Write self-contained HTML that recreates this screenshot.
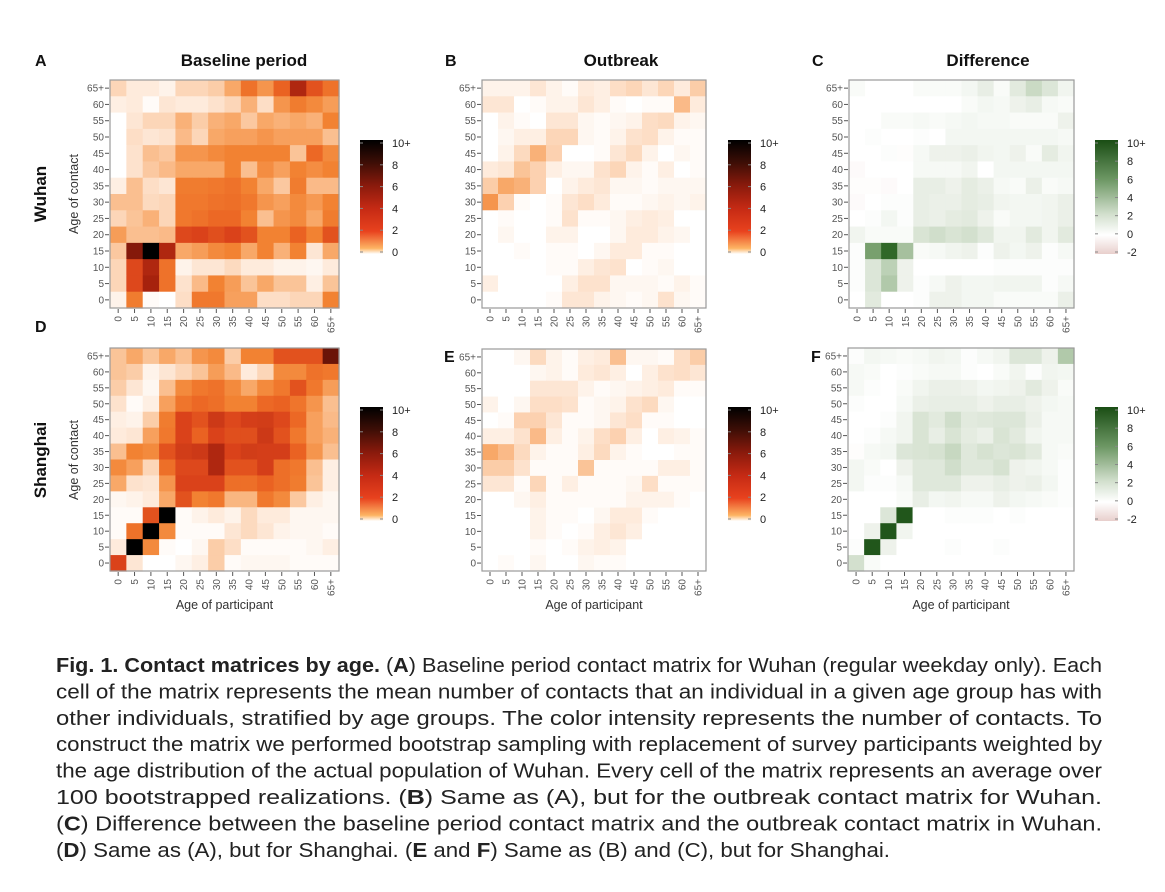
<!DOCTYPE html>
<html><head><meta charset="utf-8"><style>
html,body{margin:0;padding:0;background:#fff;}
svg{display:block;font-family:"Liberation Sans",sans-serif;}
</style></head><body>
<svg id="fig" width="1165" height="892" viewBox="0 0 1165 892">
<defs>
<linearGradient id="gOr" x1="0" y1="1" x2="0" y2="0">
<stop offset="0" stop-color="#ffffff"/><stop offset="0.05" stop-color="#fdb463"/><stop offset="0.2" stop-color="#e8421e"/><stop offset="0.4" stop-color="#c52a14"/><stop offset="0.6" stop-color="#8a1a0c"/><stop offset="0.8" stop-color="#3e0e06"/><stop offset="1" stop-color="#000000"/>
</linearGradient>
<linearGradient id="gGr" x1="0" y1="1" x2="0" y2="0">
<stop offset="0" stop-color="#e8cfcc"/><stop offset="0.167" stop-color="#ffffff"/><stop offset="0.35" stop-color="#d2dfcd"/><stop offset="0.65" stop-color="#6e9865"/><stop offset="1" stop-color="#1a4d14"/>
</linearGradient>
</defs>
<g id="panels"></g>
<g font-size="20" fill="#222">
<text x="56" y="672" textLength="1046" lengthAdjust="spacingAndGlyphs"><tspan font-weight="bold">Fig. 1. Contact matrices by age.</tspan> (<tspan font-weight="bold">A</tspan>) Baseline period contact matrix for Wuhan (regular weekday only). Each</text>
<text x="56" y="698.4" textLength="1046" lengthAdjust="spacingAndGlyphs">cell of the matrix represents the mean number of contacts that an individual in a given age group has with</text>
<text x="56" y="724.8" textLength="1046" lengthAdjust="spacingAndGlyphs">other individuals, stratified by age groups. The color intensity represents the number of contacts. To</text>
<text x="56" y="751.2" textLength="1046" lengthAdjust="spacingAndGlyphs">construct the matrix we performed bootstrap sampling with replacement of survey participants weighted by</text>
<text x="56" y="777.6" textLength="1046" lengthAdjust="spacingAndGlyphs">the age distribution of the actual population of Wuhan. Every cell of the matrix represents an average over</text>
<text x="56" y="804" textLength="1046" lengthAdjust="spacingAndGlyphs">100 bootstrapped realizations. (<tspan font-weight="bold">B</tspan>) Same as (A), but for the outbreak contact matrix for Wuhan.</text>
<text x="56" y="830.4" textLength="1046" lengthAdjust="spacingAndGlyphs">(<tspan font-weight="bold">C</tspan>) Difference between the baseline period contact matrix and the outbreak contact matrix in Wuhan.</text>
<text x="56" y="856.8" textLength="834" lengthAdjust="spacingAndGlyphs">(<tspan font-weight="bold">D</tspan>) Same as (A), but for Shanghai. (<tspan font-weight="bold">E</tspan> and <tspan font-weight="bold">F</tspan>) Same as (B) and (C), but for Shanghai.</text>
</g>
</svg>
<script>
const ageLabels = ["0","5","10","15","20","25","30","35","40","45","50","55","60","65+"];
// rows listed top (65+) to bottom (0); columns age of participant 0..65+
const wuhanBaseline = [
[1,0.5,0.5,0.3,1,1,1.2,2,3.5,2.5,4,6.5,4.5,3.5],
[0.4,0.5,0.1,0.6,0.5,0.5,0.7,1,1.8,0.8,2.5,3.2,2.8,2.3],
[0,0.6,1,1,1.8,1.2,1.8,2,1.3,2,1.8,2,1.8,3],
[0,0.8,0.6,0.7,1.6,1,2,2.2,2.2,2.5,2.2,2.2,2.2,1.5],
[0,0.7,1.5,1.3,2.5,2.5,2.8,3,3,3,3,1.4,3.8,2.8],
[0,0.7,1.3,1.6,2,2,2,3,1.5,2.7,2.2,3,2.7,3],
[0.4,1.5,0.8,0.6,3.2,3.2,3.3,3.5,3,2,1.3,3.2,1.6,1.6],
[1.5,1.5,0.9,1,3.3,3.3,3.5,3.6,3.3,2.5,2.2,2.8,2.4,3],
[1,1.4,1.8,1,3.3,3.5,3.8,3.8,3,1.5,2.5,2.8,2,3.2],
[2.3,1.5,1.5,1.6,4.8,5,4.6,5,4.5,3,3,4,3,4.5],
[1.3,7.5,10,6.5,2,2.3,2.8,3,2,3,1.8,3,0.6,2],
[1,4.8,6.5,3.5,0.3,0.6,0.6,0.9,0.5,0.5,0.3,0.3,0.2,0.5],
[1,4.8,6.8,3.5,0.7,1.6,3,2.3,1.4,2,1.4,1.4,0.4,1.4],
[0.3,3.2,0.1,0,0.8,3.3,3.3,2.2,2.2,0.8,0.8,1,1,3]];
const wuhanOutbreak = [
[0.3,0.3,0.3,0.6,0.3,0.1,0.5,0.4,0.8,1,0.6,1,0.5,1.2],
[0.6,0.6,0,0.1,0.3,0.3,0.6,0.4,0.1,0,0.1,0.1,1.6,0.5],
[0,0.3,0.1,0,0.6,0.6,0.2,0.1,0.2,0.3,0.8,0.9,0.3,0.2],
[0,0.2,0.4,0.4,1,1,0.2,0.1,0.3,0.7,0.8,0.3,0.1,0.1],
[0,0.3,0.9,1.8,1.1,0,0,0.1,0.6,0.9,0.3,0,0.2,0.1],
[0.5,0.6,1.4,1.1,0.4,0.2,0.2,0.7,1,0.3,0.1,0.4,0,0.1],
[1.2,2,1.8,1.1,0,0.3,0.5,0.6,0.2,0.2,0.1,0.2,0.2,0.2],
[2.5,1.1,0.1,0,0.1,0.6,0.8,0.5,0.1,0.1,0.2,0.3,0.2,0.3],
[0,0.1,0,0,0.1,0.7,0.1,0.1,0.2,0.4,0.5,0.4,0,0],
[0,0.2,0,0,0.3,0.3,0,0,0.2,0.5,0.5,0.3,0.2,0],
[0,0,0.1,0,0.1,0.1,0,0.2,0.5,0.5,0.1,0.1,0,0],
[0,0,0,0,0.1,0.1,0.4,0.6,0.7,0,0.1,0.2,0,0],
[0.4,0,0,0,0,0.4,0.7,0.7,0.2,0.2,0.2,0.1,0.3,0.1],
[0,0,0,0,0.1,0.6,0.6,0.3,0.2,0.1,0.2,0.7,0.2,0.1]];
const wuhanDiff = [
[0.2,0,0,0,0.2,0.2,0.2,0.4,0.8,0.2,1,1.8,1.2,0.5],
[0,0,0,0,0,0,0,0.2,0.4,0.3,0.6,0.8,0.3,0.2],
[0,0,0.2,0.2,0.3,0.2,0.3,0.4,0.3,0.3,0.2,0.2,0.2,0.6],
[0,0.1,0,0,0.1,0,0.4,0.4,0.4,0.4,0.4,0.4,0.4,0.3],
[0,0,0.1,-0.1,0.3,0.6,0.6,0.7,0.5,0.4,0.6,0.2,0.9,0.5],
[-0.2,0,0,0,0.3,0.3,0.3,0.5,0,0.4,0.4,0.4,0.4,0.4],
[-0.1,-0.1,-0.2,0,0.8,0.8,0.6,0.9,0.7,0.3,0.2,0.7,0.2,0.3],
[-0.2,0,0.1,0.1,0.8,0.7,0.7,0.9,0.8,0.5,0.4,0.4,0.5,0.7],
[0,0.1,0.4,0.1,0.8,0.7,0.9,1,0.6,0.2,0.4,0.4,0.5,0.7],
[0.5,0.2,0.2,0.2,1.3,1.6,1.3,1.5,1.1,0.5,0.5,1,0.5,1],
[0.1,4,7,2.8,0.2,0.3,0.5,0.6,0.1,0.6,0.4,0.6,0.1,0.3],
[0.1,1.2,2.2,0.6,0,0,0,0,0,0.1,0.1,0.1,0.1,0.1],
[0.1,1.2,2.5,0.6,0.1,0.3,0.6,0.4,0.4,0.5,0.5,0.5,0.1,0.3],
[0,1,0,0,0.1,0.6,0.6,0.4,0.4,0.2,0.2,0.2,0.2,0.7]];
const shanghaiBaseline = [
[1.4,2,1.4,2,1.5,2.5,2.8,1.2,3,3,4.5,4.5,4.5,8],
[1.4,1.2,0.3,0.6,1,1.4,2.3,1.6,0.5,1,2.8,2.8,3.5,3.3],
[1.2,0.6,0.2,1.5,2.8,3.3,3.5,2.8,2,2.8,3.3,4.5,3.3,2.3],
[0.7,0.1,0.4,2.2,3.4,3.8,3.6,3,3,3.8,4,3.4,2.5,1.5],
[0.4,0.3,1.2,3.2,5,4.5,5.5,4.8,5.2,5.3,4.8,3.8,2.2,1.6],
[0.5,0.6,2.2,3.3,5,4,5,4.6,4.6,5.5,4.5,3.3,2.2,1.8],
[1.5,3,2.8,4.5,5.3,5.5,6.5,5,5.3,5.2,5.2,4,2.5,1.5],
[2.8,2.2,1,3.6,4.8,4.8,6.5,4.5,4.5,5.2,3.6,3.3,1.5,0.4],
[2,0.7,0.6,2.5,5,5,5,3.6,3.6,4,3.6,3.2,1.4,0.4],
[0.2,0.3,0.5,2,4.5,3,3.3,1.7,1.7,3.3,2.8,1.3,0.4,0.2],
[0.1,0.1,4.5,10,0.1,0.3,0.5,0.3,0.9,0.5,0.5,0.2,0.2,0.2],
[0.1,3.5,10,2.8,0.1,0.1,0.1,0.6,0.9,0.6,0.3,0.2,0.2,0.1],
[0.5,10,2.8,0.1,0,0.2,1.2,0.8,0.1,0.1,0.1,0.1,0.2,0.4],
[5,0.6,0,0,0.2,0.4,1.2,0.1,0.2,0.2,0.2,0.1,0.1,0.1]];
const shanghaiOutbreak = [
[0,0,0.2,0.9,0.3,0.1,0.4,0.5,1.5,0.2,0.2,0.1,0.8,1.2],
[0,0,0,0.2,0.3,0.1,0.5,0.6,0.4,0,0.4,0.7,0.8,0.6],
[0,0,0,0.6,0.6,0.6,0.3,0.1,0.2,0.3,0.4,0.5,0.1,0.1],
[0.3,0,0.2,0.8,0.8,0.7,0.1,0.2,0.3,0.7,0.9,0.2,0,0],
[0,0.1,1.1,1.1,0.6,0.1,0.1,0.2,0.6,0.8,0.1,0.1,0,0],
[0.4,0.4,0.7,1.6,0.4,0.1,0.3,0.8,1.1,0.4,0,0.4,0.3,0.1],
[2,1.6,0.9,0.3,0.1,0.1,0.4,0.9,0.3,0.1,0,0,0.1,0.1],
[1.2,1.2,0.7,0.1,0.1,0.1,1.4,0.1,0.1,0.1,0.1,0.4,0.4,0.1],
[0.6,0.6,0.1,1,0.1,0.4,0.1,0.1,0.1,0.2,0.8,0.1,0.1,0.1],
[0,0,0.2,0.4,0.1,0.1,0.1,0.1,0.1,0.3,0.3,0.3,0.1,0],
[0,0,0,0.3,0.1,0.1,0,0.2,0.5,0.5,0.1,0,0,0],
[0,0,0,0.3,0.1,0,0.1,0.4,0.6,0.4,0,0,0,0],
[0,0,0,0.1,0,0.1,0.3,0.4,0.3,0,0,0,0,0],
[0,0.1,0,0.2,0,0,0.2,0.1,0.1,0,0,0,0,0]];
const shanghaiDiff = [
[0.1,0.4,0.3,0.2,0.3,0.5,0.4,0.1,0.3,0.5,1.2,1.2,0.6,2.5],
[0.3,0.2,0,0.1,0.2,0.3,0.3,0.1,0,0.2,0.5,0.1,0.5,0.4],
[0.3,0.1,0,0.2,0.5,0.7,0.7,0.6,0.4,0.5,0.6,1,0.6,0.2],
[0.1,0,0,0.3,0.7,0.8,0.8,0.8,0.6,0.8,0.8,0.6,0.4,0.3],
[0,0,0.1,0.5,1.3,1,1.6,1,1.1,1.2,1.2,0.7,0.3,0.3],
[0,0.1,0.3,0.5,1.3,0.8,1.3,0.9,0.7,1.3,1,0.5,0.3,0.3],
[-0.1,0.3,0.4,1.2,1.3,1.4,1.9,1.1,1.4,1.2,1.3,1,0.3,0.2],
[0.4,0.2,0,0.6,1.1,1.1,1.6,1.1,1.1,1.4,0.6,0.5,0.3,0.1],
[0.4,0.1,0.1,0.3,1.1,1.1,1.1,0.6,0.6,0.8,0.6,0.7,0.4,0.1],
[0,0,0,0.2,0.8,0.4,0.5,0.3,0.3,0.6,0.4,0.3,0.2,0.1],
[0,0,1.2,9,0,0,0.1,0.1,0.1,0,0.1,0,0,0],
[0,0.6,9,0.5,0,0,0,0,0,0,0,0,0,0],
[0.1,9,0.6,0,0,0,0.1,0,0,0.1,0,0,0,0],
[1.5,0.2,0,0,0,0,0,0,0,0,0,0,0,0]];
const orangeTicks = ["0","2","4","6","8","10+"];
const greenTicks = ["-2","0","2","4","6","8","10+"];

const orStops=[[0,[255,255,255]],[1,[252,214,184]],[2,[248,168,104]],[3,[242,130,50]],[4,[234,98,34]],[5,[218,66,26]],[7,[160,30,12]],[10,[0,0,0]]];
const grStops=[[-2,[232,205,202]],[0,[255,255,255]],[1,[226,234,222]],[2,[196,214,190]],[4,[120,160,110]],[7,[48,104,40]],[10,[26,77,20]]];
function interp(st,v){
  if(v<=st[0][0]) return st[0][1];
  for(let i=1;i<st.length;i++){ if(v<=st[i][0]){const a=st[i-1],b=st[i],t=(v-a[0])/(b[0]-a[0]);return a[1].map((c,k)=>Math.round(c+(b[1][k]-c)*t));}}
  return st[st.length-1][1];
}
const NS="http://www.w3.org/2000/svg";
const root=document.getElementById('panels');
function mk(tag,attrs,parent,txt){const e=document.createElementNS(NS,tag);for(const k in attrs)e.setAttribute(k,attrs[k]);if(txt!==undefined)e.textContent=txt;(parent||root).appendChild(e);return e;}

const panels=[
 {key:'a',data:wuhanBaseline,x0:110,x1:339,y0:80,y1:308,scale:'o',xt:false},
 {key:'b',data:wuhanOutbreak,x0:482,x1:706,y0:80,y1:308,scale:'o',xt:false},
 {key:'c',data:wuhanDiff,x0:849,x1:1074,y0:80,y1:308,scale:'g',xt:false},
 {key:'d',data:shanghaiBaseline,x0:110,x1:339,y0:348,y1:571,scale:'o',xt:true},
 {key:'e',data:shanghaiOutbreak,x0:482,x1:706,y0:349,y1:571,scale:'o',xt:true},
 {key:'f',data:shanghaiDiff,x0:848,x1:1074,y0:348,y1:571,scale:'g',xt:true}];

panels.forEach(p=>{
  const g=mk('g',{});
  
  
  const n=ageLabels.length, cw=(p.x1-p.x0)/n, ch=(p.y1-p.y0)/n;
  const xs=j=>p.x0+j*cw, ys=i=>p.y0+i*ch;
  p.data.forEach((row,i)=>row.forEach((v,j)=>{
    const c=interp(p.scale==='o'?orStops:grStops,v);
    const r=mk('rect',{x:xs(j).toFixed(2),y:ys(i).toFixed(2),width:(cw+0.6).toFixed(2),height:(ch+0.6).toFixed(2),fill:`rgb(${c[0]},${c[1]},${c[2]})`},g);
    
    
  }));
  mk('rect',{x:p.x0,y:p.y0,width:p.x1-p.x0,height:p.y1-p.y0,fill:'none',stroke:'#9a9a9a','stroke-width':1.2},g);
  ageLabels.forEach((lab,k)=>{
    const cy=ys(n-1-k)+ch/2;
    mk('line',{x1:p.x0-5,x2:p.x0-1,y1:cy,y2:cy,stroke:'#555','stroke-width':1},g);
    const t=mk('text',{x:p.x0-6,y:cy+3.5,'text-anchor':'end','font-size':10,fill:'#555'},g,lab);
    
    
    const cx=xs(k)+cw/2;
    mk('line',{x1:cx,x2:cx,y1:p.y1+1,y2:p.y1+5,stroke:'#555','stroke-width':1},g);
    const tx=mk('text',{x:0,y:0,'text-anchor':'end','font-size':10,fill:'#555',transform:`translate(${cx+3.5},${p.y1+8}) rotate(-90)`},g,lab);
    
    
  });
  if(p.xt){
    const xt=mk('text',{x:(p.x0+p.x1)/2,y:p.y1+38,'text-anchor':'middle','font-size':12.5,fill:'#333'},g,'Age of participant');
    
    
  }
});

// column titles and panel letters
[['Baseline period',244],['Outbreak',621],['Difference',988]].forEach(([t,x])=>{
  const e=mk('text',{x:x,y:66,'text-anchor':'middle','font-size':17,'font-weight':'bold',fill:'#111'},root,t);
  
  
});
[['A',35,66],['B',445,66],['C',812,66],['D',35,332],['E',444,362],['F',811,362]].forEach(([t,x,y])=>{
  const e=mk('text',{x:x,y:y,'font-size':16,'font-weight':'bold',fill:'#111'},root,t);
  
  
});
[['Wuhan',194],['Shanghai',460]].forEach(([t,y])=>{
  const e=mk('text',{x:0,y:0,'text-anchor':'middle','font-size':17,'font-weight':'bold',fill:'#111',transform:`translate(46,${y}) rotate(-90)`},root,t);
  
  
  const a=mk('text',{x:0,y:0,'text-anchor':'middle','font-size':12.5,fill:'#333',transform:`translate(78,${y}) rotate(-90)`},root,'Age of contact');
  
  
});

// legends
function legend(x,top,bottom,kind){
  const g=mk('g',{});
  
  
  mk('rect',{x:x,y:top,width:23,height:bottom-top,fill:kind==='o'?'url(#gOr)':'url(#gGr)'},g);
  const ticks=kind==='o'?orangeTicks:greenTicks;
  const lo=kind==='o'?0:-2, hi=10;
  const y0=top+3,y1=bottom-2;
  ticks.forEach(t=>{
    const v=parseFloat(t);
    const y=y1-(v-lo)/(hi-lo)*(y1-y0);
    mk('line',{x1:x,x2:x+3,y1:y,y2:y,stroke:'#888','stroke-width':1},g);
    mk('line',{x1:x+20,x2:x+23,y1:y,y2:y,stroke:'#888','stroke-width':1},g);
    const e=mk('text',{x:x+32,y:y+4,'font-size':11,fill:'#222'},g,t);
    
    
  });
}
legend(360,140,254,'o');legend(728,140,254,'o');legend(1095,140,254,'g');
legend(360,407,521,'o');legend(728,407,521,'o');legend(1095,407,521,'g');
</script>
</body></html>
